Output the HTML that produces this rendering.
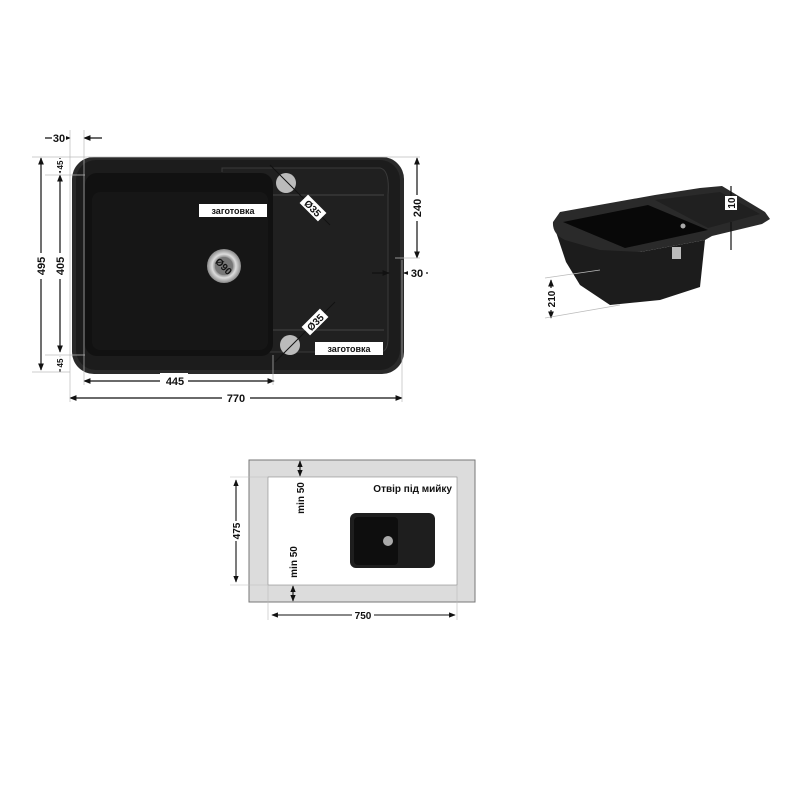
<!DOCTYPE html>
<html><head><meta charset="utf-8"><style>
body{margin:0;background:#fff}
svg text{font-family:"Liberation Sans",sans-serif;font-weight:bold;fill:#111}
</style></head><body>
<svg width="800" height="800" viewBox="0 0 800 800" xmlns="http://www.w3.org/2000/svg">
<defs>
<marker id="a" viewBox="0 0 10 10" refX="9" refY="5" markerWidth="6" markerHeight="6" orient="auto-start-reverse"><path d="M0,1L10,5L0,9z" fill="#111"/></marker>
<radialGradient id="dr"><stop offset="0.4" stop-color="#555"/><stop offset="0.7" stop-color="#ddd"/><stop offset="1" stop-color="#888"/></radialGradient>
</defs>
<!-- main sink -->
<rect x="72" y="157" width="332" height="217" rx="22" fill="#2a2a2a"/>
<rect x="76" y="160" width="324" height="210" rx="20" fill="#1c1c1c"/>
<path d="M222,172 L222,168 L380,168 Q390,170 388,195 L388,338 Q388,352 380,352 L222,352 L222,348" fill="#202020" stroke="#3a3a3a" stroke-width="1"/>
<line x1="272" y1="195" x2="384" y2="195" stroke="#444"/>
<line x1="272" y1="330" x2="384" y2="330" stroke="#444"/>
<rect x="85" y="173" width="188" height="183" rx="12" fill="#111"/>
<rect x="92" y="192" width="176" height="158" rx="8" fill="#161616"/>
<circle cx="224" cy="266" r="17" fill="url(#dr)"/>
<circle cx="224" cy="266" r="9" fill="#777"/>
<circle cx="286" cy="183" r="10" fill="#bbb"/>
<circle cx="290" cy="345" r="10" fill="#bbb"/>
<rect x="199" y="204" width="68" height="13" fill="#fff"/><text x="233" y="214" font-size="9" text-anchor="middle">заготовка</text>
<rect x="315" y="342" width="68" height="13" fill="#fff"/><text x="349" y="352" font-size="9" text-anchor="middle">заготовка</text>
<line x1="270" y1="165" x2="330" y2="225" stroke="#111"/>
<line x1="275" y1="362" x2="335" y2="302" stroke="#111"/>
<g transform="translate(313,208) rotate(45)"><rect x="-13" y="-6" width="26" height="12" fill="#fff"/><text x="0" y="4" font-size="10" text-anchor="middle">Ø35</text></g>
<g transform="translate(315,322) rotate(-45)"><rect x="-13" y="-6" width="26" height="12" fill="#fff"/><text x="0" y="4" font-size="10" text-anchor="middle">Ø35</text></g>
<g transform="translate(224,266) rotate(45)"><text x="0" y="4" font-size="10" text-anchor="middle">Ø90</text></g>
<!-- dims -->
<g stroke="#111" stroke-width="1.2" fill="none">
<line x1="41" y1="158" x2="41" y2="370" marker-start="url(#a)" marker-end="url(#a)"/>
<line x1="60" y1="175" x2="60" y2="352" marker-start="url(#a)" marker-end="url(#a)"/>
<line x1="60" y1="158" x2="60" y2="173" marker-end="url(#a)"/>
<line x1="60" y1="372" x2="60" y2="357" marker-end="url(#a)"/>
<line x1="417" y1="158" x2="417" y2="258" marker-start="url(#a)" marker-end="url(#a)"/>
<line x1="84" y1="381" x2="274" y2="381" marker-start="url(#a)" marker-end="url(#a)"/>
<line x1="70" y1="398" x2="402" y2="398" marker-start="url(#a)" marker-end="url(#a)"/>
<line x1="45" y1="138" x2="70" y2="138" marker-end="url(#a)"/>
<line x1="102" y1="138" x2="84" y2="138" marker-end="url(#a)"/>
<line x1="372" y1="273" x2="389" y2="273" marker-end="url(#a)"/>
<line x1="428" y1="273" x2="404" y2="273" marker-end="url(#a)"/>
</g>
<g stroke="#bbb" stroke-width="0.7">
<line x1="70" y1="130" x2="70" y2="402"/><line x1="84" y1="130" x2="84" y2="385"/>
<line x1="32" y1="157" x2="420" y2="157"/><line x1="32" y1="372" x2="70" y2="372"/>
<line x1="45" y1="175" x2="85" y2="175"/><line x1="45" y1="355" x2="85" y2="355"/>
<line x1="273" y1="355" x2="273" y2="385"/><line x1="402" y1="260" x2="402" y2="402"/>
<line x1="395" y1="258" x2="420" y2="258"/>
</g>
<rect x="52" y="129" width="14" height="14" fill="#fff"/><text x="59" y="142" font-size="11" text-anchor="middle">30</text>
<rect x="408" y="266" width="18" height="14" fill="#fff"/><text x="417" y="277" font-size="11" text-anchor="middle">30</text>
<rect x="160" y="373" width="28" height="14" fill="#fff"/><text x="175" y="385" font-size="11" text-anchor="middle">445</text>
<rect x="222" y="390" width="28" height="14" fill="#fff"/><text x="236" y="402" font-size="11" text-anchor="middle">770</text>
<g transform="translate(41,266) rotate(-90)"><rect x="-13" y="-7" width="26" height="14" fill="#fff"/><text x="0" y="4" font-size="11" text-anchor="middle">495</text></g>
<g transform="translate(60,266) rotate(-90)"><rect x="-13" y="-7" width="26" height="14" fill="#fff"/><text x="0" y="4" font-size="11" text-anchor="middle">405</text></g>
<g transform="translate(60,165) rotate(-90)"><rect x="-6" y="-6" width="12" height="12" fill="#fff"/><text x="0" y="3" font-size="8" text-anchor="middle">45</text></g>
<g transform="translate(60,363) rotate(-90)"><rect x="-6" y="-6" width="12" height="12" fill="#fff"/><text x="0" y="3" font-size="8" text-anchor="middle">45</text></g>
<g transform="translate(417,208) rotate(-90)"><rect x="-13" y="-7" width="26" height="14" fill="#fff"/><text x="0" y="4" font-size="11" text-anchor="middle">240</text></g>
<!-- 3D sink -->
<path d="M556,232 L566,262 L580,285 L610,305 L660,300 L700,287 L705,240 L640,252 Z" fill="#1c1c1c"/>
<path d="M553,222 L560,212 L655,195 L700,188 L722,186 L765,212 L770,219 L762,224 L712,236 L705,240 L640,252 L600,250 L565,240 Q552,234 553,222z" fill="#2a2a2a"/>
<path d="M563,222 L648,205 L708,230 L625,248 Z" fill="#080808"/>
<path d="M655,200 L720,192 L760,214 L708,228 Z" fill="#202020"/>
<circle cx="683" cy="226" r="2.5" fill="#aaa"/>
<rect x="672" y="247" width="9" height="12" fill="#bbb"/>
<g stroke="#111" stroke-width="1.2"><line x1="731" y1="186" x2="731" y2="210" marker-end="url(#a)"/><line x1="731" y1="250" x2="731" y2="222"/>
<line x1="551" y1="280" x2="551" y2="318" marker-start="url(#a)" marker-end="url(#a)"/></g>
<g stroke="#bbb" stroke-width="0.7"><line x1="545" y1="278" x2="600" y2="270"/><line x1="545" y1="318" x2="620" y2="305"/></g>
<g transform="translate(731,203) rotate(-90)"><rect x="-7" y="-6" width="14" height="12" fill="#fff"/><text x="0" y="4" font-size="10" text-anchor="middle">10</text></g>
<g transform="translate(551,299) rotate(-90)"><rect x="-11" y="-6" width="22" height="12" fill="#fff"/><text x="0" y="4" font-size="10" text-anchor="middle">210</text></g>
<!-- cutout -->
<rect x="249" y="460" width="226" height="142" fill="#dcdcdc" stroke="#777"/>
<rect x="268" y="477" width="189" height="108" fill="#fff" stroke="#888" stroke-width="0.6"/>
<text x="452" y="492" font-size="10" text-anchor="end">Отвір під мийку</text>
<rect x="350" y="513" width="85" height="55" rx="6" fill="#1e1e1e"/>
<rect x="354" y="517" width="44" height="48" rx="4" fill="#0e0e0e"/>
<circle cx="388" cy="541" r="5" fill="#aaa"/>
<g stroke="#111" stroke-width="1.1">
<line x1="236" y1="480" x2="236" y2="582" marker-start="url(#a)" marker-end="url(#a)"/>
<line x1="272" y1="615" x2="455" y2="615" marker-start="url(#a)" marker-end="url(#a)"/>
<line x1="300" y1="461" x2="300" y2="476" marker-start="url(#a)" marker-end="url(#a)"/>
<line x1="293" y1="586" x2="293" y2="601" marker-start="url(#a)" marker-end="url(#a)"/>
</g>
<g stroke="#bbb" stroke-width="0.6"><line x1="230" y1="477" x2="268" y2="477"/><line x1="230" y1="585" x2="268" y2="585"/><line x1="268" y1="585" x2="268" y2="620"/><line x1="457" y1="585" x2="457" y2="620"/></g>
<g transform="translate(236,531) rotate(-90)"><rect x="-10" y="-7" width="20" height="14" fill="#fff"/><text x="0" y="4" font-size="10" text-anchor="middle">475</text></g>
<rect x="352" y="608" width="22" height="14" fill="#fff"/><text x="363" y="619" font-size="10" text-anchor="middle">750</text>
<g transform="translate(300,498) rotate(-90)"><text x="0" y="4" font-size="10" text-anchor="middle">min 50</text></g>
<g transform="translate(293,562) rotate(-90)"><text x="0" y="4" font-size="10" text-anchor="middle">min 50</text></g>
</svg>
</body></html>
